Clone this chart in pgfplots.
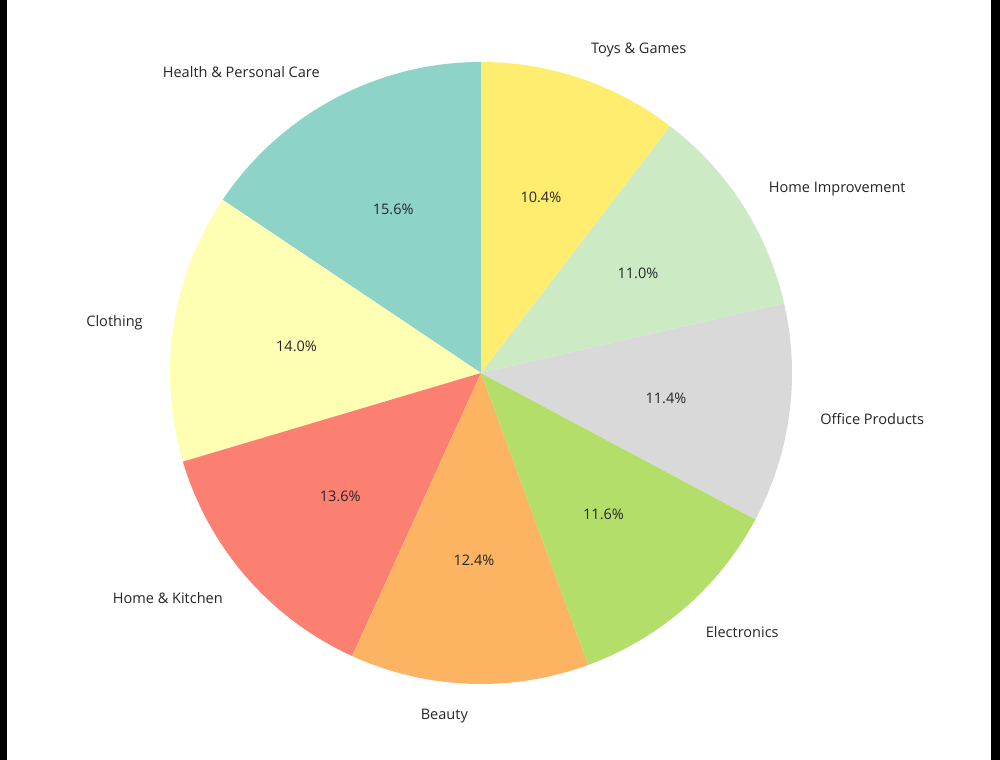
\documentclass[border=0pt]{standalone}
\usepackage{pgfplots}
\pgfplotsset{compat=1.18}
\usepackage{pgfplotstable}
\usepackage{fontspec}
\setmainfont{Open Sans}

\definecolor{c1}{HTML}{8DD3C7}
\definecolor{c2}{HTML}{FFFFB3}
\definecolor{c3}{HTML}{FB8072}
\definecolor{c4}{HTML}{FDB462}
\definecolor{c5}{HTML}{B3DE69}
\definecolor{c6}{HTML}{D9D9D9}
\definecolor{c7}{HTML}{CCEBC5}
\definecolor{c8}{HTML}{FFED6F}
\definecolor{txt}{HTML}{262626}

% slices, counter-clockwise from the top
\pgfplotstableread[col sep=comma]{
label,value,color
{Health \& Personal Care},15.6,c1
Clothing,14.0,c2
{Home \& Kitchen},13.6,c3
Beauty,12.4,c4
Electronics,11.6,c5
Office Products,11.4,c6
Home Improvement,11.0,c7
{Toys \& Games},10.4,c8
}\piedata

\begin{document}
\begin{tikzpicture}
\begin{axis}[
	x=0.75pt, y=0.75pt,
	xmin=0, xmax=1000,
	ymin=0, ymax=760,
	scale only axis,
	hide axis,
	clip=false,
	anchor=origin, at={(0,0)},
]
\fill[white] (axis cs:0,0) rectangle (axis cs:1000,760);
\fill[black] (axis cs:0,0) rectangle (axis cs:7,760);
\fill[black] (axis cs:991,0) rectangle (axis cs:1000,760);

\pgfplotstablegetrowsof{\piedata}
\pgfmathtruncatemacro\nrows{\pgfplotsretval-1}
\xdef\angstart{90}
\foreach \i in {0,...,\nrows}{
	\pgfplotstablegetelem{\i}{value}\of\piedata \let\v\pgfplotsretval
	\pgfplotstablegetelem{\i}{color}\of\piedata \let\col\pgfplotsretval
	\pgfplotstablegetelem{\i}{label}\of\piedata \let\lab\pgfplotsretval
	\pgfmathsetmacro\angend{\angstart+3.6*\v}
	\pgfmathsetmacro\angmid{(\angstart+\angend)/2}
	\pgfmathsetmacro\lx{481+342*cos(\angmid)}
	\pgfmathsetmacro\ly{386+342*sin(\angmid)}
	\pgfmathsetmacro\px{481+186.6*cos(\angmid)}
	\pgfmathsetmacro\py{386+186.6*sin(\angmid)}
	\pgfmathparse{cos(\angmid)>0 ? "west" : "east"}
	\let\anc\pgfmathresult
	\edef\temp{
		\noexpand\fill[\col] (axis cs:481,387) -- ++(\angstart:233.25pt)
			arc[start angle=\angstart, end angle=\angend, radius=233.25pt] -- cycle;
		\noexpand\node[anchor=\anc, inner sep=0pt, text=txt, font=\noexpand\fontsize{10.9}{13}\noexpand\selectfont]
			at (axis cs:\lx,\ly) {\lab};
		\noexpand\node[inner sep=0pt, text=txt, font=\noexpand\fontsize{10.9}{13}\noexpand\selectfont]
			at (axis cs:\px,\py) {\v\%};
	}
	\temp
	\xdef\angstart{\angend}
}
\end{axis}
\end{tikzpicture}
\end{document}
